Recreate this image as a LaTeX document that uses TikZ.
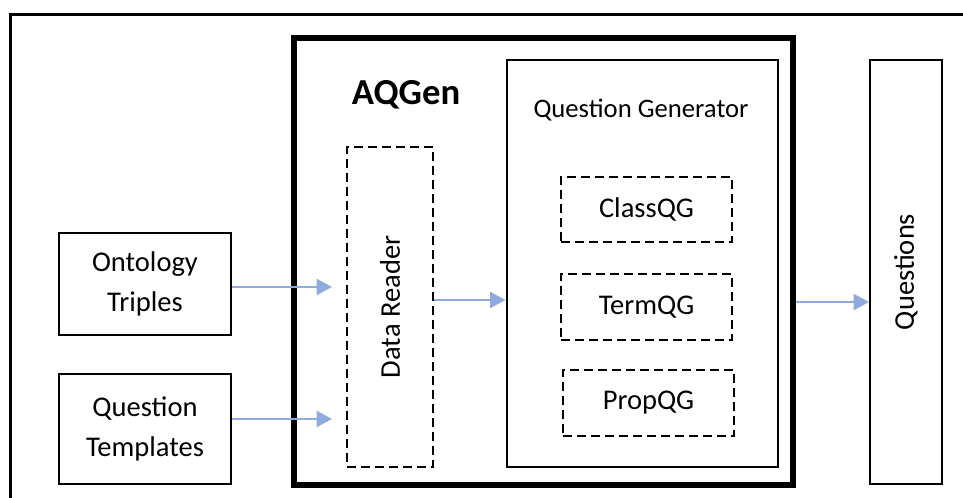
\documentclass[tikz,border=0pt]{standalone}
\usepackage{fontspec}
\setmainfont{Carlito}
\usetikzlibrary{arrows.meta}
\definecolor{arrowblue}{RGB}{143,170,220}

\begin{document}
\begin{tikzpicture}[x=0.75pt, y=-0.75pt,
        box/.style={draw, line width=1.5pt, inner sep=0pt, align=center,
            font=\fontsize{21.4}{30}\selectfont},
        dashbox/.style={box, dash pattern=on 6.75pt off 3.75pt},
        flow/.style={draw=arrowblue, line width=1.5pt,
            -{Triangle[length=11.5pt,width=12pt]}}]
    \newcommand{\px}{0.75pt}
    \useasboundingbox (0,0) rectangle (963,498);

    % Draw outer frame
    \draw[line width=2.5*\px] (10.5,498) -- (10.5,14.5) -- (963,14.5);

    % Draw input boxes
    \node[box, minimum width=172*\px, minimum height=102*\px] (ontology) at (145,284) {Ontology\\Triples};
    \node[box, minimum width=172*\px, minimum height=110*\px] (templates) at (145,429) {Question\\Templates};

    % Draw AQGen box
    \node[draw, line width=5.5*\px, minimum width=499*\px, minimum height=447*\px] (aqgen) at (543.5,261.5) {};
    \node[font=\fontsize{27.5}{33}\selectfont\bfseries] (aqgentitle) at (406,95) {AQGen};
    \node[dashbox, minimum width=86*\px, minimum height=320*\px] (reader) at (390,307) {\rotatebox{90}{Data Reader}};

    % Draw question generator
    \node[box, minimum width=271*\px, minimum height=407*\px] (qgen) at (642,263.5) {};
    \node[font=\fontsize{20}{24}\selectfont] (qgentitle) at (641,110) {Question Generator};
    \node[dashbox, minimum width=171*\px, minimum height=65*\px] (classqg) at (646.5,209.5) {ClassQG};
    \node[dashbox, minimum width=171*\px, minimum height=66*\px] (termqg) at (646.5,307) {TermQG};
    \node[dashbox, minimum width=171*\px, minimum height=66*\px] (propqg) at (648.5,403) {PropQG};

    % Draw output box
    \node[box, minimum width=72*\px, minimum height=424*\px] (questions) at (906,272) {\rotatebox{90}{Questions}};

    % Draw arrows
    \draw[flow, shorten >=10.5pt] ([yshift=-2.25pt]ontology.east) -- ([yshift=-2.25pt]ontology.east -| reader.west);
    \draw[flow, shorten >=10.5pt] ([yshift=7.5pt]templates.east) -- ([yshift=7.5pt]templates.east -| reader.west);
    \draw[flow] ([yshift=5.25pt]reader.east) -- ([yshift=5.25pt]reader.east -| qgen.west);
    \draw[flow] ([yshift=-22.5pt]questions.west -| aqgen.east) -- ([yshift=-22.5pt]questions.west);
\end{tikzpicture}
\end{document}
